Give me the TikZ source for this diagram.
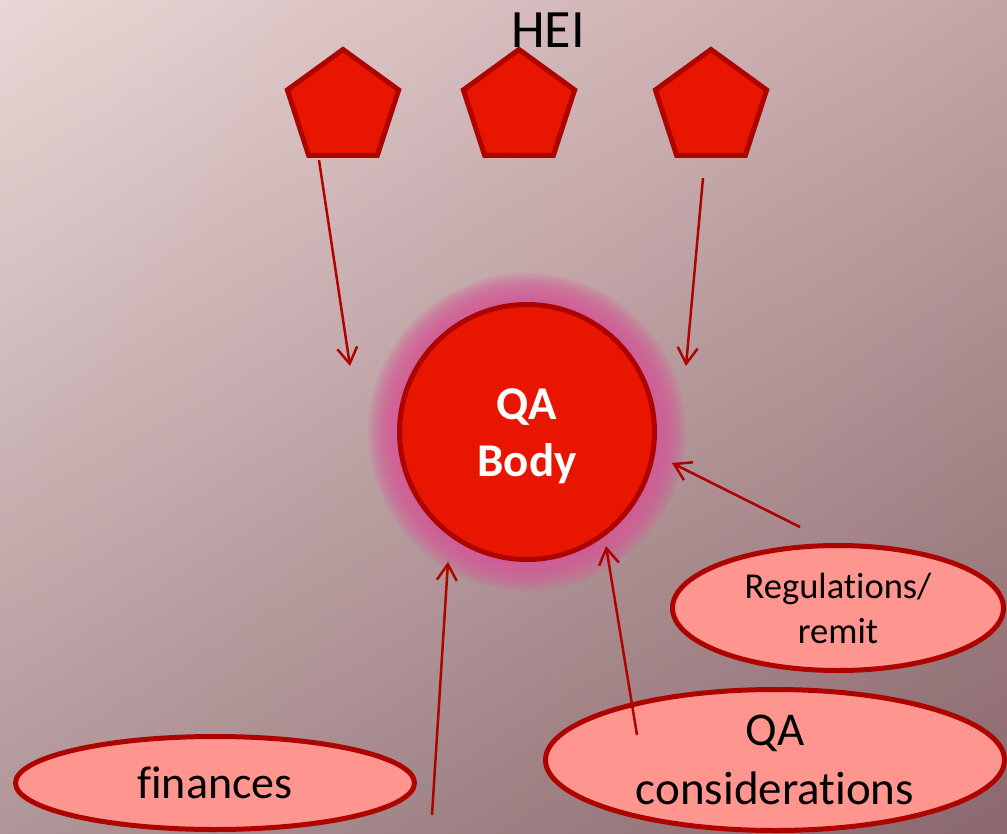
\documentclass[tikz,border=0pt]{standalone}
\usepackage{fontspec}
\setmainfont{Carlito}[Ligatures=NoCommon]
\usetikzlibrary{shapes.geometric,arrows.meta,shadings}
\definecolor{hired}{RGB}{232,21,0}
\definecolor{rim}{RGB}{174,4,0}
\definecolor{salmon}{RGB}{255,149,142}
\definecolor{glowpink}{RGB}{214,88,150}
\definecolor{bgul}{RGB}{234,214,214}
\definecolor{bgur}{RGB}{196,164,167}
\definecolor{bgll}{RGB}{176,150,152}
\definecolor{bglr}{RGB}{138,104,109}
\tikzset{
  hei/.style={regular polygon, regular polygon sides=5, minimum size=117pt,
    inner sep=0pt, fill=hired, draw=rim, line width=5pt},
  body/.style={circle, minimum size=255pt, inner sep=0pt, fill=hired,
    draw=rim, line width=5pt},
  bodytext/.style={text=white, align=center,
    font=\bfseries\fontsize{47}{57}\selectfont},
  factor/.style={ellipse, inner sep=0pt, fill=salmon, draw=rim,
    line width=5pt, align=center},
  feed/.style={draw=rim, line width=2.5pt,
    -{Straight Barb[length=16pt,width=20pt,line width=2.5pt]}}
}
\begin{document}
\begin{tikzpicture}[x=1pt,y=-1pt]
  \clip (0,0) rectangle (1007,833);
  \shade[upper left=bgul, upper right=bgur, lower left=bgll, lower right=bglr]
    (0,0) rectangle (1007,833);

  % glow round the QA body
  \foreach \i in {1,...,12}
    \fill[glowpink, opacity=0.15] (527,432) circle (130+2.4*\i);

  \node[body] (qa) at (527,432) {};
  \node[bodytext] (qatext) at ([yshift=-4pt]qa.center) {QA\\Body};

  \node[anchor=base, font=\fontsize{54}{65}\selectfont] (title) at (548,47) {HEI};
  \node[hei] (h1) at (343,108) {};
  \node[hei] (h2) at (519,108) {};
  \node[hei] (h3) at (711,108) {};

  \node[factor, minimum width=331pt, minimum height=125pt,
    font=\fontsize{36.5}{45}\selectfont] (reg) at (838,608) {Regulations/\\remit};
  \node[factor, minimum width=459pt, minimum height=141pt,
    font=\fontsize{47}{59}\selectfont] (qac) at (775,760) {QA\\considerations};
  \node[factor, minimum width=399pt, minimum height=93pt,
    font=\fontsize{46}{55}\selectfont] (fin) at (215,783) {finances};

  % loose ends of the arrows
  \coordinate (s1) at (319,160);
  \coordinate (e1) at (350,366);
  \coordinate (s3) at (703,178);
  \coordinate (e3) at (686,366);
  \coordinate (sr) at (800,527);
  \coordinate (er) at (672,463);
  \coordinate (sq) at (637,735);
  \coordinate (eq) at (606,546);
  \coordinate (sf) at (432,815);
  \coordinate (ef) at (448,562);

  \draw[feed] (s1) -- (e1);
  \draw[feed] (s3) -- (e3);
  \draw[feed] (sr) -- (er);
  \draw[feed] (sq) -- (eq);
  \draw[feed] (sf) -- (ef);
\end{tikzpicture}
\end{document}
